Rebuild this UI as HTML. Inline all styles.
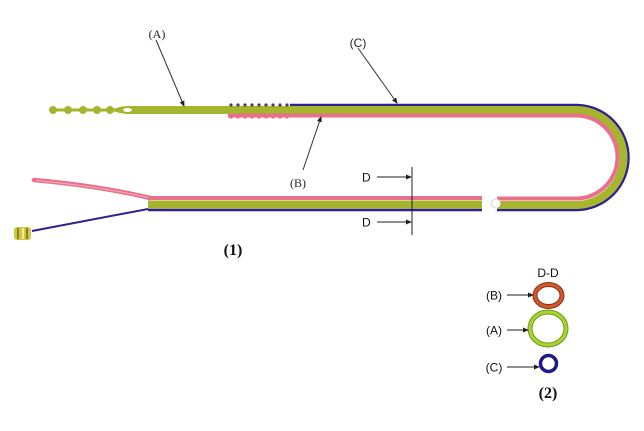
<!DOCTYPE html>
<html><head><meta charset="utf-8">
<style>
html,body{margin:0;padding:0;background:#fff;}
svg{display:block;}
</style></head>
<body>
<svg width="644" height="431" viewBox="0 0 644 431" xmlns="http://www.w3.org/2000/svg">
<defs>
<marker id="ah" markerWidth="6" markerHeight="6" refX="5" refY="3" orient="auto" markerUnits="userSpaceOnUse">
<path d="M0,0.5 L6,3 L0,5.5 z" fill="#222"/>
</marker>
</defs>
<rect width="644" height="431" fill="#fff"/>

<!-- top bead tip -->
<g fill="#a6b52e">
<circle cx="53" cy="110" r="4"/>
<circle cx="68" cy="110" r="4"/>
<circle cx="83" cy="110" r="4"/>
<circle cx="97" cy="110" r="4"/>
<circle cx="110" cy="110" r="4"/>
<rect x="50" y="108.5" width="70" height="3"/>
<path d="M114,108.5 L122,106.5 L130,106.5 L130,113.5 L122,113.5 L114,111.5 z"/>
</g>

<!-- purple outer line -->
<path d="M290,105 L576,105 A52.5,52.5 0 0 1 576,210 L497,210" fill="none" stroke="#2d2090" stroke-width="2.5"/>
<!-- green band -->
<path d="M125,110 L576,110 A47.5,47.5 0 0 1 576,205 L497,205" fill="none" stroke="#a6b52e" stroke-width="8"/>
<!-- pink inner -->
<path d="M228,115.5 L576,115.5 A41.5,41.5 0 0 1 576,198.5 L497,198.5" fill="none" stroke="#e9708c" stroke-width="4"/>

<!-- bumps region -->
<g fill="#4a3a6a">
<circle cx="231" cy="105" r="1.6"/><circle cx="238" cy="105" r="1.6"/><circle cx="245" cy="105" r="1.6"/>
<circle cx="252" cy="105" r="1.6"/><circle cx="259" cy="105" r="1.6"/><circle cx="266" cy="105" r="1.6"/>
<circle cx="273" cy="105" r="1.6"/><circle cx="280" cy="105" r="1.6"/><circle cx="287" cy="105" r="1.6"/>
</g>
<g fill="#e9708c">
<circle cx="231" cy="116.5" r="2.2"/><circle cx="238" cy="116.5" r="2.2"/><circle cx="245" cy="116.5" r="2.2"/>
<circle cx="252" cy="116.5" r="2.2"/><circle cx="259" cy="116.5" r="2.2"/><circle cx="266" cy="116.5" r="2.2"/>
<circle cx="273" cy="116.5" r="2.2"/><circle cx="280" cy="116.5" r="2.2"/><circle cx="287" cy="116.5" r="2.2"/>
</g>
<rect x="228" y="106.5" width="62" height="7" fill="#a6b52e"/>
<!-- slot -->
<ellipse cx="127.5" cy="110" rx="4.5" ry="2" fill="#fff"/>

<!-- bottom left segment -->
<path d="M148,210 L482,210" stroke="#2d2090" stroke-width="2.5"/>
<path d="M148,204.5 L482,204.5" stroke="#a6b52e" stroke-width="8"/>
<path d="M148,198 L482,198" stroke="#e9708c" stroke-width="4"/>
<!-- pink fan -->
<path d="M34,180 Q100,186 150,198" fill="none" stroke="#e9708c" stroke-width="4.5" stroke-linecap="round"/>
<path d="M36,180.5 Q100,186.5 148,197.5" fill="none" stroke="#f4b0c0" stroke-width="1"/>
<!-- purple lead -->
<path d="M32,231 L148,209" fill="none" stroke="#2d2090" stroke-width="2"/>
<!-- gold connector -->
<g>
<rect x="14" y="227" width="17" height="13" rx="3" fill="#cfc64a"/>
<rect x="17" y="228" width="2" height="11" fill="#8a8220"/>
<rect x="22" y="228" width="2" height="11" fill="#f2ec9a"/>
<rect x="26" y="228" width="2" height="11" fill="#8a8220"/>
</g>
<!-- broken end white circle -->
<circle cx="496" cy="203.5" r="4.5" fill="#fff" stroke="#ccc" stroke-width="0.8"/>

<!-- D-D markers -->
<line x1="412" y1="167" x2="412" y2="235" stroke="#222" stroke-width="1"/>
<line x1="377" y1="177" x2="411" y2="177" stroke="#222" stroke-width="1" marker-end="url(#ah)"/>
<line x1="377" y1="222" x2="411" y2="222" stroke="#222" stroke-width="1" marker-end="url(#ah)"/>
<text x="362" y="181.5" font-family="Liberation Sans, sans-serif" font-size="12" fill="#111">D</text>
<text x="362" y="226.5" font-family="Liberation Sans, sans-serif" font-size="12" fill="#111">D</text>

<!-- leader lines -->
<line x1="156" y1="40" x2="184" y2="106" stroke="#333" stroke-width="1" marker-end="url(#ah)"/>
<line x1="303" y1="170" x2="321" y2="117" stroke="#333" stroke-width="1" marker-end="url(#ah)"/>
<line x1="358" y1="48" x2="397" y2="103" stroke="#333" stroke-width="1" marker-end="url(#ah)"/>
<text x="157" y="38" text-anchor="middle" font-family="Liberation Serif, serif" font-size="12" fill="#222">(A)</text>
<text x="298" y="187" text-anchor="middle" font-family="Liberation Serif, serif" font-size="12" fill="#222">(B)</text>
<text x="358" y="47" text-anchor="middle" font-family="Liberation Sans, sans-serif" font-size="12" fill="#222">(C)</text>

<text x="233" y="255" text-anchor="middle" font-family="Liberation Serif, serif" font-size="16" font-weight="bold" fill="#111">(1)</text>

<!-- cross section -->
<text x="548" y="277" text-anchor="middle" font-family="Liberation Sans, sans-serif" font-size="12" fill="#111">D-D</text>
<ellipse cx="548.5" cy="295.5" rx="13.5" ry="11" fill="none" stroke="#8a3018" stroke-width="5"/>
<ellipse cx="548.5" cy="295.5" rx="13.5" ry="11" fill="none" stroke="#d0582a" stroke-width="3"/>
<ellipse cx="548" cy="328.5" rx="18" ry="16.5" fill="none" stroke="#6e9a1a" stroke-width="5"/>
<ellipse cx="548" cy="328.5" rx="18" ry="16.5" fill="none" stroke="#aad430" stroke-width="3"/>
<circle cx="548.5" cy="363.5" r="8" fill="none" stroke="#1e1a80" stroke-width="3.5"/>
<text x="494" y="299.5" text-anchor="middle" font-family="Liberation Sans, sans-serif" font-size="12" fill="#111">(B)</text>
<text x="494" y="334.5" text-anchor="middle" font-family="Liberation Sans, sans-serif" font-size="12" fill="#111">(A)</text>
<text x="494" y="371.5" text-anchor="middle" font-family="Liberation Sans, sans-serif" font-size="12" fill="#111">(C)</text>
<line x1="507" y1="295" x2="533" y2="295" stroke="#222" stroke-width="1" marker-end="url(#ah)"/>
<line x1="507" y1="330" x2="528" y2="330" stroke="#222" stroke-width="1" marker-end="url(#ah)"/>
<line x1="507" y1="367" x2="539" y2="367" stroke="#222" stroke-width="1" marker-end="url(#ah)"/>
<text x="548" y="398" text-anchor="middle" font-family="Liberation Serif, serif" font-size="16" font-weight="bold" fill="#111">(2)</text>
</svg>
</body></html>
